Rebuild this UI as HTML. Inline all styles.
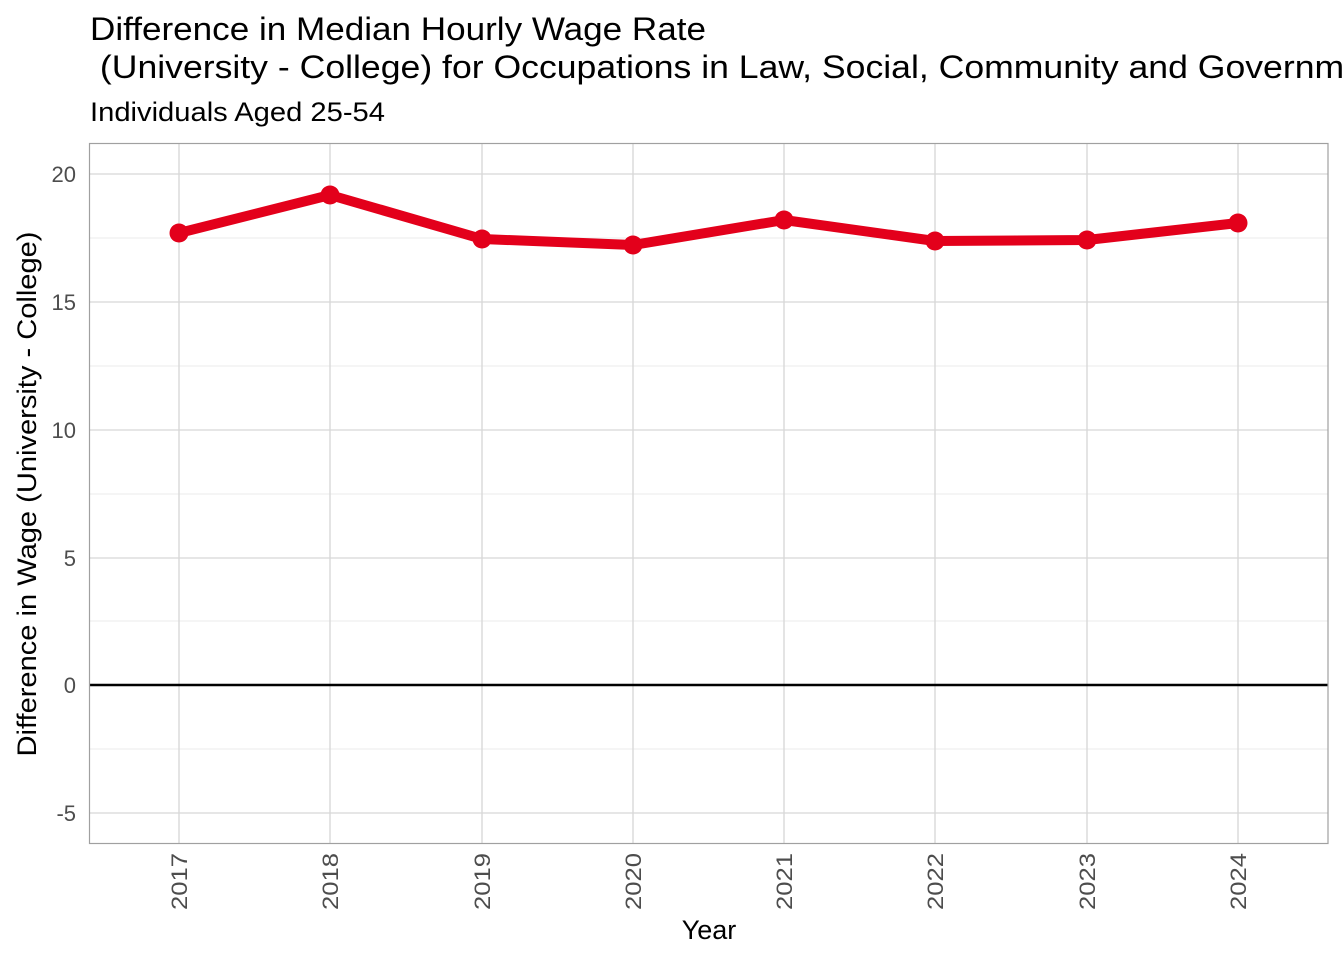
<!DOCTYPE html>
<html><head><meta charset="utf-8"><style>body{margin:0;background:#fff}svg{display:block}text{font-family:"Liberation Sans",sans-serif}</style></head><body>
<svg width="1344" height="960" viewBox="0 0 1344 960" xmlns="http://www.w3.org/2000/svg">
<rect width="1344" height="960" fill="#fff"/>
<text x="90" y="40" font-size="32" fill="#000" textLength="616" lengthAdjust="spacingAndGlyphs">Difference in Median Hourly Wage Rate</text>
<text x="90" y="78" font-size="32" fill="#000" xml:space="preserve" textLength="1450" lengthAdjust="spacingAndGlyphs"> (University - College) for Occupations in Law, Social, Community and Government Services</text>
<text x="90" y="121" font-size="27" fill="#000" textLength="295" lengthAdjust="spacingAndGlyphs">Individuals Aged 25-54</text>
<g stroke="#ebebeb" stroke-width="1">
<line x1="89" x2="1328" y1="238" y2="238"/><line x1="89" x2="1328" y1="366" y2="366"/><line x1="89" x2="1328" y1="494" y2="494"/><line x1="89" x2="1328" y1="621" y2="621"/><line x1="89" x2="1328" y1="749" y2="749"/>
</g>
<g stroke="#d6d6d6" stroke-width="1.3">
<line x1="89" x2="1328" y1="174" y2="174"/><line x1="89" x2="1328" y1="302" y2="302"/><line x1="89" x2="1328" y1="430" y2="430"/><line x1="89" x2="1328" y1="558" y2="558"/><line x1="89" x2="1328" y1="813" y2="813"/>
<line x1="179" x2="179" y1="143" y2="843"/><line x1="330" x2="330" y1="143" y2="843"/><line x1="482" x2="482" y1="143" y2="843"/><line x1="633" x2="633" y1="143" y2="843"/><line x1="784" x2="784" y1="143" y2="843"/><line x1="935" x2="935" y1="143" y2="843"/><line x1="1087" x2="1087" y1="143" y2="843"/><line x1="1238" x2="1238" y1="143" y2="843"/>
</g>
<line x1="89" x2="1328" y1="685" y2="685" stroke="#000" stroke-width="2.5"/>
<rect x="89.5" y="143.5" width="1238.5" height="700" fill="none" stroke="#a0a0a0" stroke-width="1.2"/>
<polyline points="179,233 330,195 482,239 633,245 784,220 935,241 1087,240 1238,223" fill="none" stroke="#e3001b" stroke-width="10" stroke-linejoin="round"/>
<g fill="#e3001b">
<circle cx="179" cy="233" r="9.5"/><circle cx="330" cy="195" r="9.5"/><circle cx="482" cy="239" r="9.5"/><circle cx="633" cy="245" r="9.5"/><circle cx="784" cy="220" r="9.5"/><circle cx="935" cy="241" r="9.5"/><circle cx="1087" cy="240" r="9.5"/><circle cx="1238" cy="223" r="9.5"/>
</g>
<g font-size="22" fill="#4d4d4d" text-anchor="end">
<text x="76" y="182">20</text><text x="76" y="310">15</text><text x="76" y="438">10</text><text x="76" y="566">5</text><text x="76" y="693">0</text><text x="76" y="821">-5</text>
</g>
<g font-size="22" fill="#4d4d4d" text-anchor="end">
<text transform="translate(187,853) rotate(-90)" textLength="57" lengthAdjust="spacingAndGlyphs">2017</text>
<text transform="translate(338,853) rotate(-90)" textLength="57" lengthAdjust="spacingAndGlyphs">2018</text>
<text transform="translate(490,853) rotate(-90)" textLength="57" lengthAdjust="spacingAndGlyphs">2019</text>
<text transform="translate(641,853) rotate(-90)" textLength="57" lengthAdjust="spacingAndGlyphs">2020</text>
<text transform="translate(792,853) rotate(-90)" textLength="57" lengthAdjust="spacingAndGlyphs">2021</text>
<text transform="translate(943,853) rotate(-90)" textLength="57" lengthAdjust="spacingAndGlyphs">2022</text>
<text transform="translate(1095,853) rotate(-90)" textLength="57" lengthAdjust="spacingAndGlyphs">2023</text>
<text transform="translate(1246,853) rotate(-90)" textLength="57" lengthAdjust="spacingAndGlyphs">2024</text>
</g>
<text x="709" y="939" font-size="27" text-anchor="middle" fill="#000">Year</text>
<text transform="translate(36,494) rotate(-90)" font-size="27" text-anchor="middle" fill="#000" textLength="525" lengthAdjust="spacingAndGlyphs">Difference in Wage (University - College)</text>
</svg>
</body></html>
